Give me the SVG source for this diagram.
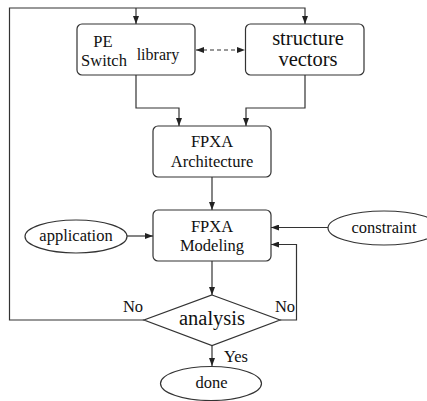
<svg xmlns="http://www.w3.org/2000/svg" width="427" height="401" viewBox="0 0 427 401">
  <defs>
    <marker id="arr" viewBox="0 0 8 6" refX="8" refY="3" markerWidth="8" markerHeight="6" markerUnits="userSpaceOnUse" orient="auto-start-reverse">
      <path d="M0,0 L8,3 L0,6 Z" fill="#222"/>
    </marker>
    <style>
      .box { fill: #fff; stroke: #333; stroke-width: 1.2; }
      .edge { fill: none; stroke: #333; stroke-width: 1.2; }
      .t { font-family: "Liberation Serif", "Times New Roman", serif; fill: #111; text-anchor: middle; }
    </style>
  </defs>
  <rect width="427" height="401" fill="#fff"/>

  <!-- connectors -->
  <g id="edges">
    <!-- feedback loop from the left "No" branch to both input boxes -->
    <path class="edge" d="M144,320 H9.5 V8 H305 V24" marker-end="url(#arr)"/>
    <path class="edge" d="M136,8 V24" marker-end="url(#arr)"/>
    <!-- dashed relation between library and vectors -->
    <path class="edge" d="M196,50 H245" stroke-dasharray="4,3" marker-start="url(#arr)" marker-end="url(#arr)"/>
    <!-- inputs to architecture -->
    <path class="edge" d="M136,75 V108 H179 V126" marker-end="url(#arr)"/>
    <path class="edge" d="M305,75 V108 H246 V126" marker-end="url(#arr)"/>
    <!-- architecture to modeling -->
    <path class="edge" d="M212,177 V210" marker-end="url(#arr)"/>
    <!-- application and constraint into modeling -->
    <path class="edge" d="M127,236 H153" marker-end="url(#arr)"/>
    <path class="edge" d="M328,227.5 H271" marker-end="url(#arr)"/>
    <!-- modeling to analysis -->
    <path class="edge" d="M212,261 V295" marker-end="url(#arr)"/>
    <!-- right "No" branch back to modeling -->
    <path class="edge" d="M280,320 H296.5 V244.5 H271" marker-end="url(#arr)"/>
    <!-- "Yes" branch to done -->
    <path class="edge" d="M212,345.5 V366" marker-end="url(#arr)"/>
    <text class="t" x="133" y="312" font-size="16.5">No</text>
    <text class="t" x="285" y="312" font-size="16.5">No</text>
    <text class="t" x="236" y="362" font-size="16.5">Yes</text>
  </g>

  <g id="pe-switch">
    <rect class="box" x="77" y="24" width="118" height="51" rx="5"/>
    <text class="t" x="103" y="47" font-size="16.5">PE</text>
    <text class="t" x="104" y="66" font-size="16.5">Switch</text>
    <text class="t" x="158" y="60" font-size="16">library</text>
  </g>

  <g id="structure-vectors">
    <rect class="box" x="245.5" y="24" width="118.5" height="51" rx="5"/>
    <text class="t" x="308" y="45" font-size="20.5">structure</text>
    <text class="t" x="308" y="66" font-size="20.5">vectors</text>
  </g>

  <g id="fpxa-architecture">
    <rect class="box" x="153" y="126" width="118" height="51" rx="5"/>
    <text class="t" x="212" y="146.5" font-size="16.5">FPXA</text>
    <text class="t" x="212" y="166.5" font-size="16.5">Architecture</text>
  </g>

  <g id="fpxa-modeling">
    <rect class="box" x="153" y="210" width="118" height="51" rx="5"/>
    <text class="t" x="212" y="231.5" font-size="16.5">FPXA</text>
    <text class="t" x="212" y="251" font-size="16.5">Modeling</text>
  </g>

  <g id="application">
    <ellipse class="box" cx="76" cy="236.5" rx="51" ry="16.5"/>
    <text class="t" x="76" y="241" font-size="16.5">application</text>
  </g>

  <g id="constraint">
    <ellipse class="box" cx="384" cy="228" rx="56" ry="17"/>
    <text class="t" x="384" y="233" font-size="16.5">constraint</text>
  </g>

  <g id="analysis">
    <polygon class="box" points="212,295 280,320 212,345.5 144,320"/>
    <text class="t" x="212" y="325" font-size="20.5">analysis</text>
  </g>

  <g id="done">
    <ellipse class="box" cx="211" cy="383.5" rx="50.5" ry="17"/>
    <text class="t" x="211.5" y="388" font-size="16.5">done</text>
  </g>
</svg>
